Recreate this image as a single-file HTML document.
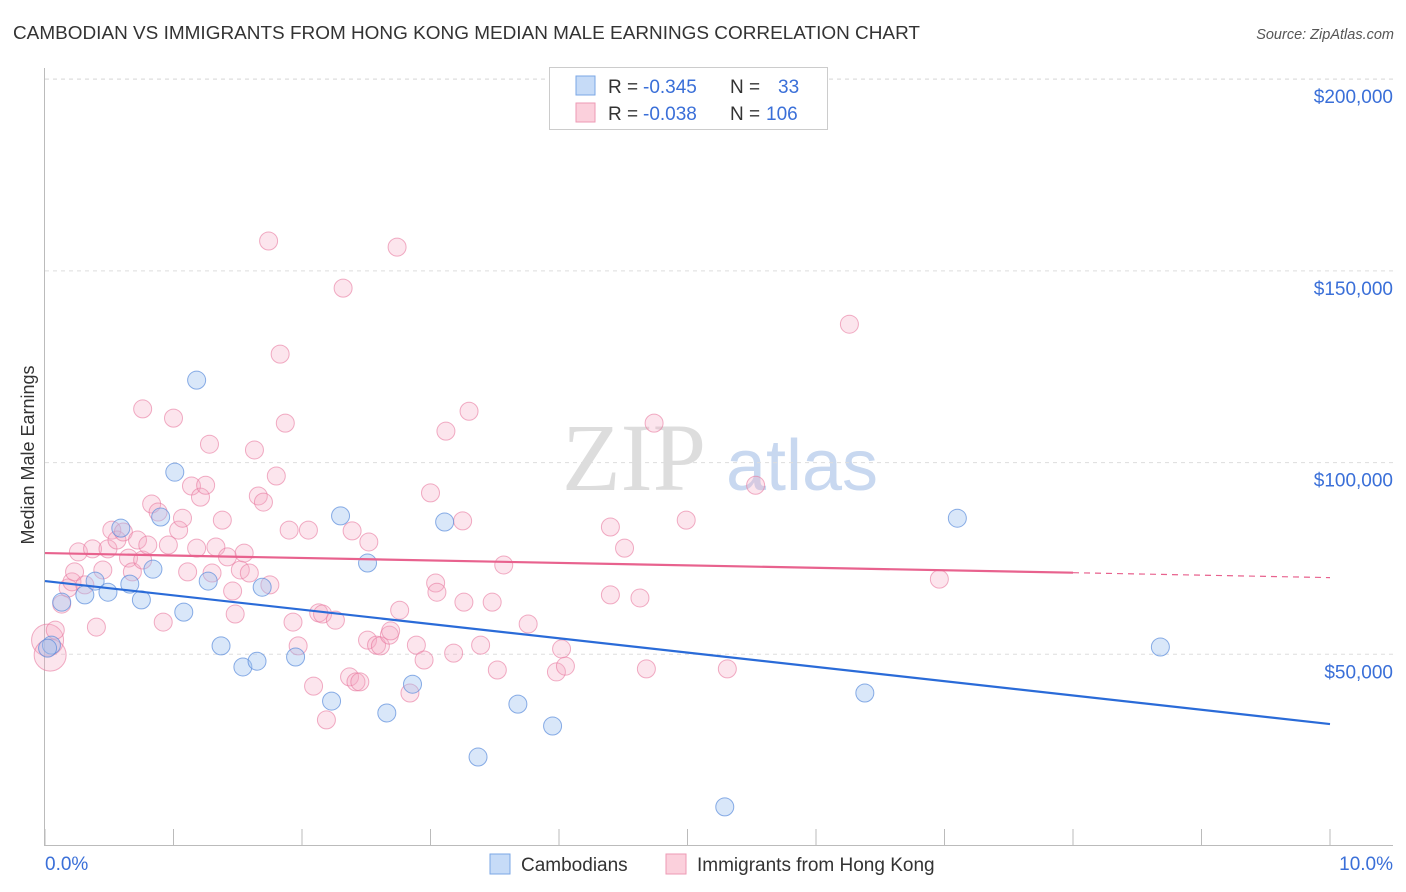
<!DOCTYPE html>
<html><head><meta charset="utf-8"><style>
body{margin:0;background:#fff;font-family:"Liberation Sans",sans-serif}
svg{display:block}
</style></head><body>
<svg id="chart" width="1406" height="892">
<text x="13" y="39" font-size="18" fill="#333" textLength="907" lengthAdjust="spacingAndGlyphs">CAMBODIAN VS IMMIGRANTS FROM HONG KONG MEDIAN MALE EARNINGS CORRELATION CHART</text>
<text x="1394" y="39" font-size="14.5" fill="#555" font-style="italic" text-anchor="end">Source: ZipAtlas.com</text>
<g>
<text x="634" y="490" font-size="96" font-family="Liberation Serif,serif" fill="#ddd" text-anchor="middle">ZIP</text>
<text x="802" y="490" font-size="72" fill="#c8d8f0" text-anchor="middle">atlas</text>
</g>
<g id="grid"></g>
<g id="axes"></g>
<g id="marks"></g>
<text transform="translate(34,455) rotate(-90)" font-size="18" fill="#333" text-anchor="middle">Median Male Earnings</text>
<g>
<rect x="549.5" y="67.5" width="278" height="62" fill="#fff" stroke="#ccc"/>
<rect x="576" y="76" width="19" height="19" fill="#c6dbf7" stroke="#7ba7e6"/>
<rect x="576" y="103" width="19" height="19" fill="#fbd0dc" stroke="#ee9ab4"/>
<text x="608" y="93" font-size="19" fill="#333">R =</text>
<text x="643" y="93" font-size="19" fill="#3a6fd8">-0.345</text>
<text x="730" y="93" font-size="19" fill="#333">N =</text>
<text x="778" y="93" font-size="19" fill="#3a6fd8">33</text>
<text x="608" y="120" font-size="19" fill="#333">R =</text>
<text x="643" y="120" font-size="19" fill="#3a6fd8">-0.038</text>
<text x="730" y="120" font-size="19" fill="#333">N =</text>
<text x="766" y="120" font-size="19" fill="#3a6fd8">106</text>
</g>
<g>
<rect x="490" y="854" width="20" height="20" fill="#c6dbf7" stroke="#7ba7e6"/>
<text x="521" y="871" font-size="19" fill="#333">Cambodians</text>
<rect x="666" y="854" width="20" height="20" fill="#fbd0dc" stroke="#ee9ab4"/>
<text x="697" y="871" font-size="19" fill="#333">Immigrants from Hong Kong</text>
</g>
</svg>
<script>
const yTicks=[50,100,150,200];
const yTickLabels=["$50,000","$100,000","$150,000","$200,000"];
const xTicks=[0,1,2,3,4,5,6,7,8,9,10];
const blueX=[.05,.13,.31,.39,.49,.59,.66,.75,.84,.90,1.01,1.08,1.18,1.27,1.37,1.54,1.65,1.69,1.95,2.23,2.30,2.51,2.66,2.86,3.11,3.37,3.68,3.95,5.29,6.38,7.10,8.68,.02];
const blueY=[52.4,63.6,65.5,69.1,66.2,82.9,68.3,64.2,72.2,85.8,97.5,61.0,121.5,69.1,52.2,46.7,48.2,67.5,49.3,37.8,86.1,73.8,34.7,42.2,84.5,23.2,37.0,31.3,10.2,39.9,85.5,51.9,51.6];
const pinkX=[.02,.04,.08,.13,.18,.21,.23,.26,.31,.37,.40,.45,.49,.52,.56,.61,.65,.68,.72,.76,.80,.83,.76,.88,.92,.96,1.00,1.04,1.07,1.11,1.14,1.18,1.21,1.25,1.28,1.30,1.33,1.38,1.42,1.46,1.48,1.52,1.55,1.59,1.63,1.66,1.70,1.74,1.75,1.80,1.83,1.87,1.90,1.93,1.97,2.05,2.09,2.13,2.16,2.19,2.26,2.32,2.37,2.39,2.42,2.45,2.51,2.52,2.58,2.61,2.68,2.69,2.74,2.76,2.84,2.89,2.95,3.00,3.04,3.05,3.12,3.18,3.25,3.26,3.30,3.39,3.48,3.52,3.57,3.76,3.98,4.02,4.05,4.40,4.40,4.51,4.63,4.68,4.74,4.99,5.31,5.53,6.26,6.96];
const pinkY=[53.7,49.8,56.3,63.1,67.3,68.9,71.5,76.7,68.1,77.5,57.1,72.0,77.5,82.4,79.8,81.9,75.1,71.5,79.8,74.6,78.5,89.2,114.0,87.1,58.4,78.5,111.6,82.4,85.5,71.5,93.9,77.7,91.0,94.1,104.8,71.2,78.0,85.0,75.4,66.5,60.5,72.0,76.4,71.2,103.3,91.3,89.7,157.8,68.1,96.5,128.3,110.3,82.4,58.4,52.2,82.4,41.7,60.8,60.5,32.9,58.9,145.5,44.1,82.2,42.8,42.8,53.7,79.3,52.4,52.2,55.0,56.1,156.2,61.5,39.9,52.4,48.5,92.1,68.6,66.2,108.2,50.3,84.8,63.6,113.4,52.4,63.6,45.9,73.3,57.9,45.4,51.4,46.9,83.2,65.5,77.7,64.7,46.2,110.3,85.0,46.2,94.1,136.1,69.6];
const blueTrend=[69.1,31.8];
const pinkTrend=[76.4,70.0];
const pinkSolidEnd=8;

const NS="http://www.w3.org/2000/svg";
const X=v=>45+v*128.5;
const Y=v=>846-v*191.7/50;
function mk(tag,attrs,parent){const e=document.createElementNS(NS,tag);for(const k in attrs)e.setAttribute(k,attrs[k]);parent.appendChild(e);return e;}
const grid=document.getElementById('grid'),axes=document.getElementById('axes'),marks=document.getElementById('marks');
const topLine=mk('line',{x1:45,x2:1393,y1:79,y2:79,stroke:'#ddd','stroke-dasharray':'4,4'},grid);


yTicks.forEach((t,i)=>{
 const l=mk('line',{x1:45,x2:1393,y1:Y(t),y2:Y(t),stroke:'#ddd','stroke-dasharray':'4,4'},grid);
 
 
 const tx=mk('text',{x:1393,y:Y(t)+24,'font-size':19,fill:'#3a6fd8','text-anchor':'end'},axes);
 tx.textContent=yTickLabels[i];
 
 
});
const ax=mk('line',{x1:45,x2:1393,y1:845.5,y2:845.5,stroke:'#bbb'},axes);


const ay=mk('line',{x1:44.5,x2:44.5,y1:68,y2:846,stroke:'#bbb'},axes);


xTicks.forEach(t=>{
 const l=mk('line',{x1:X(t),x2:X(t),y1:829,y2:846,stroke:'#bbb'},axes);
 
 
});
const xl0=mk('text',{x:45,y:870,'font-size':19,fill:'#3a6fd8'},axes);xl0.textContent=xTicks[0].toFixed(1)+'%';


const xl1=mk('text',{x:1393,y:870,'font-size':19,fill:'#3a6fd8','text-anchor':'end'},axes);xl1.textContent=xTicks[xTicks.length-1].toFixed(1)+'%';



pinkX.forEach((x,i)=>{
 const c=mk('circle',{cx:X(x),cy:Y(pinkY[i]),r:i<2?16:9,fill:'rgba(246,170,195,0.3)',stroke:'rgba(232,120,158,0.6)','stroke-width':1},marks);
 
 
});
blueX.forEach((x,i)=>{
 const c=mk('circle',{cx:X(x),cy:Y(blueY[i]),r:9,fill:'rgba(160,196,240,0.4)',stroke:'rgba(90,140,220,0.7)','stroke-width':1},marks);
 
 
});
const bl=mk('line',{x1:X(0),y1:Y(blueTrend[0]),x2:X(10),y2:Y(blueTrend[1]),stroke:'#2a6bd8','stroke-width':2.2},marks);


const pm=pinkTrend[0]+(pinkTrend[1]-pinkTrend[0])*pinkSolidEnd/10;
const pl=mk('line',{x1:X(0),y1:Y(pinkTrend[0]),x2:X(pinkSolidEnd),y2:Y(pm),stroke:'#e8628e','stroke-width':2.2},marks);


const pd=mk('line',{x1:X(pinkSolidEnd),y1:Y(pm),x2:X(10),y2:Y(pinkTrend[1]),stroke:'#e8628e','stroke-width':1.2,'stroke-dasharray':'6,5'},marks);


</script>
</body></html>
